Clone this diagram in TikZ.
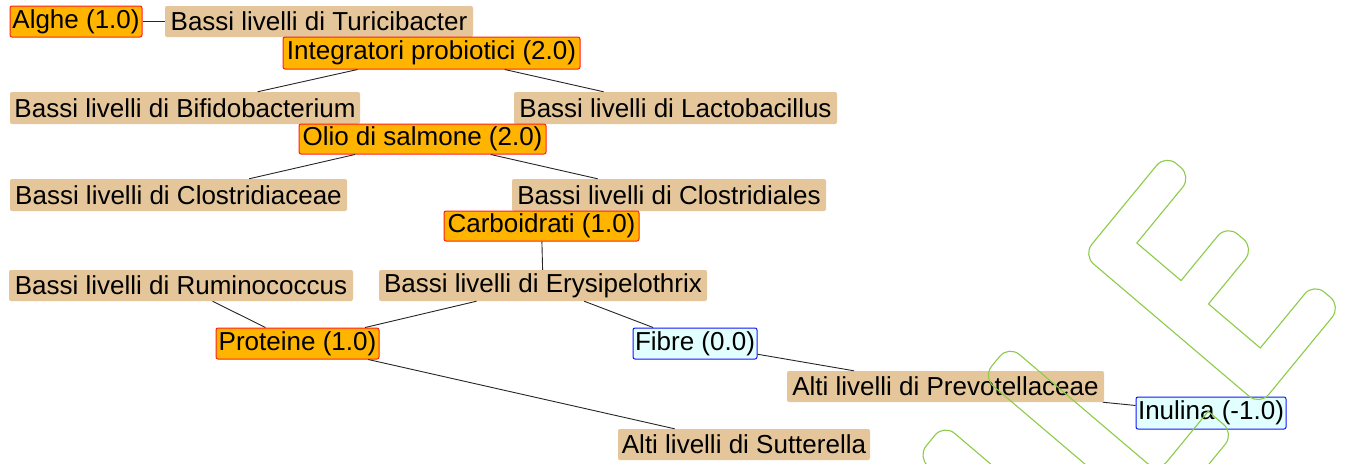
\documentclass[tikz,border=0pt]{standalone}
\usepackage{fontspec}
\setmainfont{Liberation Sans}
\definecolor{orangeC}{RGB}{255,180,0}
\definecolor{redC}{RGB}{255,30,30}
\definecolor{tanC}{RGB}{228,198,154}
\definecolor{cyanC}{RGB}{226,255,255}
\definecolor{blueC}{RGB}{20,20,255}
\definecolor{wmC}{RGB}{140,204,72}
\begin{document}
\begin{tikzpicture}[x=1pt,y=-1pt,
  box/.style={rectangle, rounded corners=2pt, inner sep=0pt, font=\fontsize{26}{30}\selectfont, text=black},
  orangebox/.style={box, fill=orangeC, draw=redC, line width=1pt},
  tanbox/.style={box, fill=tanC},
  bluebox/.style={box, fill=cyanC, draw=blueC, line width=1pt},
  link/.style={draw=black!85, line width=0.9pt},
  wm/.style={draw=wmC, line width=1.1pt}]
\useasboundingbox (0,0) rectangle (1351,463);
\clip (0,0) rectangle (1351,463);
\fill[white] (0,0) rectangle (1351,463);

\node[orangebox, minimum width=132pt, minimum height=31pt] (alghe) at (76,21.5) {Alghe (1.0)};
\node[tanbox, minimum width=308pt, minimum height=31pt] (turic) at (319,21.5) {Bassi livelli di Turicibacter};
\node[orangebox, minimum width=297pt, minimum height=32pt] (integ) at (431.5,53) {Integratori probiotici (2.0)};
\node[tanbox, minimum width=350pt, minimum height=32pt] (bifido) at (185,108) {Bassi livelli di Bifidobacterium};
\node[tanbox, minimum width=323pt, minimum height=32pt] (lacto) at (675.5,108) {Bassi livelli di Lactobacillus};
\node[orangebox, minimum width=247pt, minimum height=30pt] (olio) at (422.5,139) {Olio di salmone (2.0)};
\node[tanbox, minimum width=337pt, minimum height=32pt] (closaceae) at (178.5,195) {Bassi livelli di Clostridiaceae};
\node[tanbox, minimum width=314pt, minimum height=32pt] (closales) at (669,195) {Bassi livelli di Clostridiales};
\node[orangebox, minimum width=195pt, minimum height=30pt] (carbo) at (541.5,226) {Carboidrati (1.0)};
\node[tanbox, minimum width=344pt, minimum height=31pt] (rumino) at (181,285.5) {Bassi livelli di Ruminococcus};
\node[tanbox, minimum width=328pt, minimum height=31pt] (erysi) at (543,285.5) {Bassi livelli di Erysipelothrix};
\node[orangebox, minimum width=163pt, minimum height=31pt] (prot) at (297.5,343.5) {Proteine (1.0)};
\node[bluebox, minimum width=124pt, minimum height=31pt] (fibre) at (695,343.5) {Fibre (0.0)};
\node[tanbox, minimum width=317pt, minimum height=31pt] (prevo) at (945.5,386.5) {Alti livelli di Prevotellaceae};
\node[bluebox, minimum width=150pt, minimum height=32pt] (inul) at (1211,413) {Inulina (-1.0)};
\node[tanbox, minimum width=252pt, minimum height=31pt] (sutt) at (744,444.5) {Alti livelli di Sutterella};

\draw[link] (alghe) -- (turic);
\draw[link] (integ) -- (bifido);
\draw[link] (integ) -- (lacto);
\draw[link] (olio) -- (closaceae);
\draw[link] (olio) -- (closales);
\draw[link] (carbo) -- (erysi);
\draw[link] (rumino) -- (prot);
\draw[link] (erysi) -- (prot);
\draw[link] (erysi) -- (fibre);
\draw[link] (prot) -- (sutt);
\draw[link] (fibre) -- (prevo);
\draw[link] (prevo) -- (inul);

\begin{scope}[shift={(1083,255)}, x={(0.635pt,0.773pt)}, y={(0.762pt,-0.648pt)}]
\draw[wm] (0,110) [rounded corners=14pt] -- (0,0) -- (130,0) -- (130,34) [sharp corners] -- (44,34) -- (44,92) [rounded corners=14pt] -- (116,92) -- (116,128) [sharp corners] -- (44,128) -- (44,196) [rounded corners=14pt] -- (128,196) -- (128,232) -- (0,232) -- cycle;
\draw[wm] (-158,100) [rounded corners=14pt] -- (-158,0) -- (-117,0) -- (-117,196) [sharp corners] -- (-38,196) [rounded corners=14pt] -- (-38,230) -- (-158,230) -- cycle;
\draw[wm] (-261,260) [rounded corners=14pt] -- (-261,0) -- (-219,0) -- (-219,260);
\end{scope}
\end{tikzpicture}
\end{document}
